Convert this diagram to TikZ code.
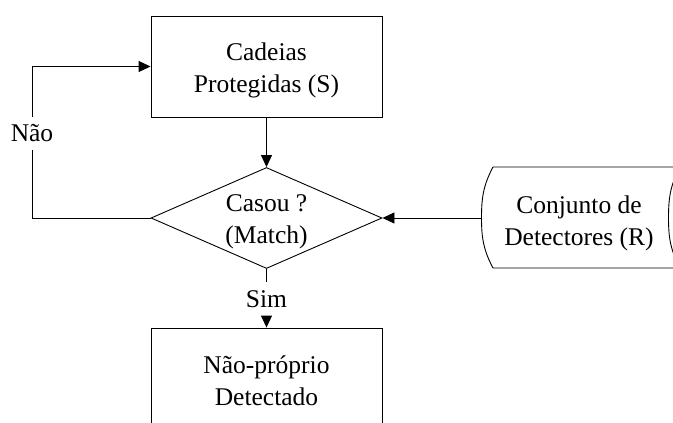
\documentclass[tikz,border=0pt]{standalone}
\usepackage{fontspec}
\setmainfont{Liberation Serif}
\usetikzlibrary{arrows.meta,shapes.geometric}

\begin{document}
\begin{tikzpicture}[x=1pt,y=-1pt,
  every node/.style={font=\fontsize{25.5}{32}\selectfont, align=center},
  line/.style={draw=black, line width=0.9pt},
  arr/.style={line, -{Triangle[length=12pt,width=11pt]}},
  procbox/.style={line, rectangle, minimum width=231pt, inner sep=0pt},
  decision/.style={line, diamond, aspect=2.29, minimum width=231pt, minimum height=101pt, inner sep=0pt},
  gaplabel/.style={fill=white, inner xsep=2pt}
]
\useasboundingbox (0,0) rectangle (673,423);
\clip (0,0) rectangle (673,423);

% process boxes and the decision, with their texts set slightly low
\node[procbox, minimum height=101pt] (top) at (266.5,66.5) {};
\node at ([yshift=-4pt]top.center) {Cadeias\\Protegidas (S)};
\node[decision] (dia) at (266.5,218) {};
\node at ([yshift=-3.5pt]dia.center) {Casou ?\\(Match)};
\node[procbox, minimum height=104pt] (bot) at (266.5,380) {};
\node at ([yshift=-1pt]bot.center) {Não-próprio\\Detectado};

% stored data: detector set
\coordinate (sL) at (481.5,218);
\draw[line] (493,167) -- (690,167)
  (493,268) -- (690,268)
  (493,167) to[out=-118,in=90] (sL) to[out=-90,in=118] (493,268)
  (680,167) to[out=-118,in=90] (668.5,218) to[out=-90,in=118] (680,268);
\node (store) at (579,223) {Conjunto de\\Detectores (R)};

% loop back when no match
\node[gaplabel, inner ysep=8pt] (nao) at (32,133.5) {Não};
\draw[line] (dia.west) -| (nao.south);
\draw[arr] (nao.north) |- (top.west);

% flow
\draw[arr] (top.south) -- (dia.north);
\draw[arr] (sL) -- (dia.east);
\node[gaplabel, inner ysep=9pt] (sim) at (266.5,299.5) {Sim};
\draw[line] (dia.south) -- (sim.north);
\draw[arr] (sim.south) -- (bot.north);
\end{tikzpicture}
\end{document}
